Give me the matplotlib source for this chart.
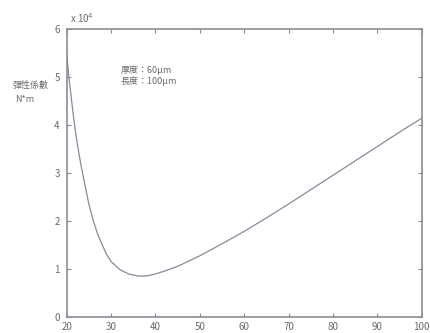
import matplotlib
matplotlib.use("Agg")
import matplotlib.pyplot as plt

plt.rcParams['font.family'] = ['Noto Sans CJK TC', 'DejaVu Sans']

x_vals = [20, 20.5, 21, 21.5, 22, 22.5, 23, 23.5, 24, 25, 26, 27, 28, 29, 30, 32, 34, 36, 37,
          38, 40, 42, 45, 50, 55, 60, 65, 70, 75, 80, 85, 90, 95, 100]
y_vals = [5.5, 5.0, 4.6, 4.2, 3.85, 3.55, 3.28, 3.03, 2.8, 2.35, 2.0, 1.72, 1.5, 1.3, 1.15, 0.98,
          0.89, 0.85, 0.845, 0.85, 0.89, 0.95, 1.05, 1.27, 1.52, 1.78, 2.06, 2.35, 2.65, 2.95,
          3.25, 3.55, 3.85, 4.14]
x_ticks = [20, 30, 40, 50, 60, 70, 80, 90, 100]
y_ticks = [0, 1, 2, 3, 4, 5, 6]
label_lines = ["厚度：60μm", "長度：100μm"]
ylabel_lines = ["彈性係數", "N*m"]

axis_color = '#8a8d96'
text_color = '#6a6a6a'

fig = plt.figure(figsize=(4.30, 3.33), dpi=100)
ax = fig.add_axes([0.155, 0.049, 0.826, 0.864])
ax.plot(x_vals, y_vals, color='#858a9c', lw=0.9)
ax.set_xlim(20, 100)
ax.set_ylim(0, 6)
ax.set_xticks(x_ticks)
ax.set_yticks(y_ticks)
ax.tick_params(direction='in', length=3, width=0.8, colors=axis_color,
               labelcolor=text_color, labelsize=7, top=True, right=True)
ax.tick_params(axis='x', pad=4)
ax.tick_params(axis='y', pad=5)
for s in ax.spines.values():
    s.set_color(axis_color)
    s.set_linewidth(1.2)

fig.text(0.162, 0.925, r'x 10$^{4}$', fontsize=7, color=text_color, ha='left', va='bottom')
fig.text(0.28, 0.79, label_lines[0], fontsize=6.5, color=text_color, ha='left', va='center')
fig.text(0.28, 0.755, label_lines[1], fontsize=6.5, color=text_color, ha='left', va='center')
fig.text(0.028, 0.745, ylabel_lines[0], fontsize=6.5, color=text_color, ha='left', va='center')
fig.text(0.035, 0.70, ylabel_lines[1], fontsize=6.5, color=text_color, ha='left', va='center')

fig.savefig('out.png', dpi=100)
